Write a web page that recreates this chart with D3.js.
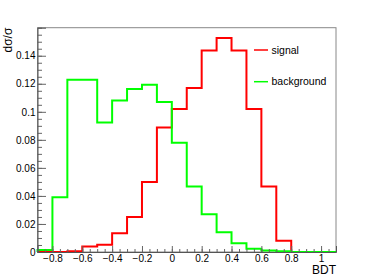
<!DOCTYPE html>
<html>
<head>
<meta charset="utf-8">
<script src="https://cdn.jsdelivr.net/npm/d3@7"></script>
<style>
  body { margin: 0; background: #fff; }
  svg { display: block; font-family: "Liberation Sans", Arial, sans-serif; }
</style>
</head>
<body>
<svg width="374" height="280"></svg>
<script>
// bin edges: -0.9 .. 1.1, width 0.1
const binLo = -0.9;
const binWidth = 0.1;
const signal = [0, 0, 0.0005, 0.004, 0.0052, 0.0133, 0.025, 0.05, 0.0888, 0.102,
  0.117, 0.1438, 0.1526, 0.1438, 0.102, 0.0467, 0.0081, 0, 0, 0];
const background = [0.0015, 0.039, 0.1229, 0.1229, 0.0924, 0.108, 0.1162, 0.1193, 0.107, 0.078,
  0.0467, 0.0269, 0.0141, 0.0062, 0.0024, 0.001, 0.0005, 0, 0, 0];
const seriesNames = ["signal", "background"];
const seriesColors = ["#ff0000", "#00ff00"];
const xTicks = [-0.8, -0.6, -0.4, -0.2, 0, 0.2, 0.4, 0.6, 0.8, 1];
const yTicks = [0, 0.02, 0.04, 0.06, 0.08, 0.1, 0.12, 0.14];

const svg = d3.select("svg");
const fL = 37.5, fR = 336, fT = 27.7, fB = 252;

const x = d3.scaleLinear().domain([-0.9, 1.1]).range([fL, fR]);
const y = d3.scaleLinear().domain([0, 0.16]).range([fB, fT]);
const fmt = d3.format("~g");

// frame
svg.append("rect")
  .attr("x", fL).attr("y", fT)
  .attr("width", fR - fL).attr("height", fB - fT)
  .attr("fill", "none").attr("stroke", "#888").attr("stroke-width", 1);

// histograms
const line = d3.line().x((d) => x(d[0])).y((d) => y(d[1]));
[signal, background].forEach(function (vals, i) {
  const pts = [[binLo, 0]];
  vals.forEach(function (v, k) {
    pts.push([binLo + k * binWidth, v]);
    pts.push([binLo + (k + 1) * binWidth, v]);
  });
  pts.push([binLo + vals.length * binWidth, 0]);
  svg.append("path")
    .attr("d", line(pts))
    .attr("fill", "none")
    .attr("stroke", seriesColors[i])
    .attr("stroke-width", 2);
});

// y axis
const yMinor = d3.range(0, 0.1601, 0.005);
svg.append("g")
  .attr("transform", "translate(" + fL + ",0)")
  .call(d3.axisLeft(y).tickValues(yMinor).tickSize(-4.5).tickFormat(""))
  .call((g) => g.select(".domain").remove());
const yAxis = svg.append("g")
  .attr("transform", "translate(" + fL + ",0)")
  .call(d3.axisLeft(y).tickValues(yTicks).tickSize(-8.5).tickPadding(2).tickFormat(fmt));
yAxis.selectAll("text").attr("font-size", 10).attr("fill", "#000")
  .attr("font-family", "Liberation Sans, Arial, sans-serif");

// x axis
const xMinor = d3.range(-0.9, 1.1001, 0.05);
svg.append("g")
  .attr("transform", "translate(0," + fB + ")")
  .call(d3.axisBottom(x).tickValues(xMinor).tickSize(-3).tickFormat(""))
  .call((g) => g.select(".domain").remove());
const xAxis = svg.append("g")
  .attr("transform", "translate(0," + fB + ")")
  .call(d3.axisBottom(x).tickValues(xTicks).tickSize(-6).tickPadding(3).tickFormat(fmt));
xAxis.selectAll("text").attr("font-size", 10).attr("fill", "#000")
  .attr("font-family", "Liberation Sans, Arial, sans-serif");

svg.selectAll(".tick line").attr("stroke", "#666");
svg.selectAll(".domain").attr("stroke", "#555");

// titles
svg.append("text")
  .attr("transform", "translate(12," + fT + ") rotate(-90)")
  .attr("text-anchor", "end")
  .attr("font-size", 12)
  .text("dσ/σ");
svg.append("text")
  .attr("x", fR).attr("y", 274)
  .attr("text-anchor", "end")
  .attr("font-size", 12)
  .text("BDT");

// legend
const legend = svg.append("g");
seriesNames.forEach(function (name, i) {
  const ly = 50 + i * 31.7;
  legend.append("line")
    .attr("x1", 254).attr("x2", 268)
    .attr("y1", ly).attr("y2", ly)
    .attr("stroke", seriesColors[i]).attr("stroke-width", 1.5);
  legend.append("text")
    .attr("x", 271.5).attr("y", ly)
    .attr("dy", "0.35em")
    .attr("font-size", 10.5)
    .text(name);
});
</script>
</body>
</html>
